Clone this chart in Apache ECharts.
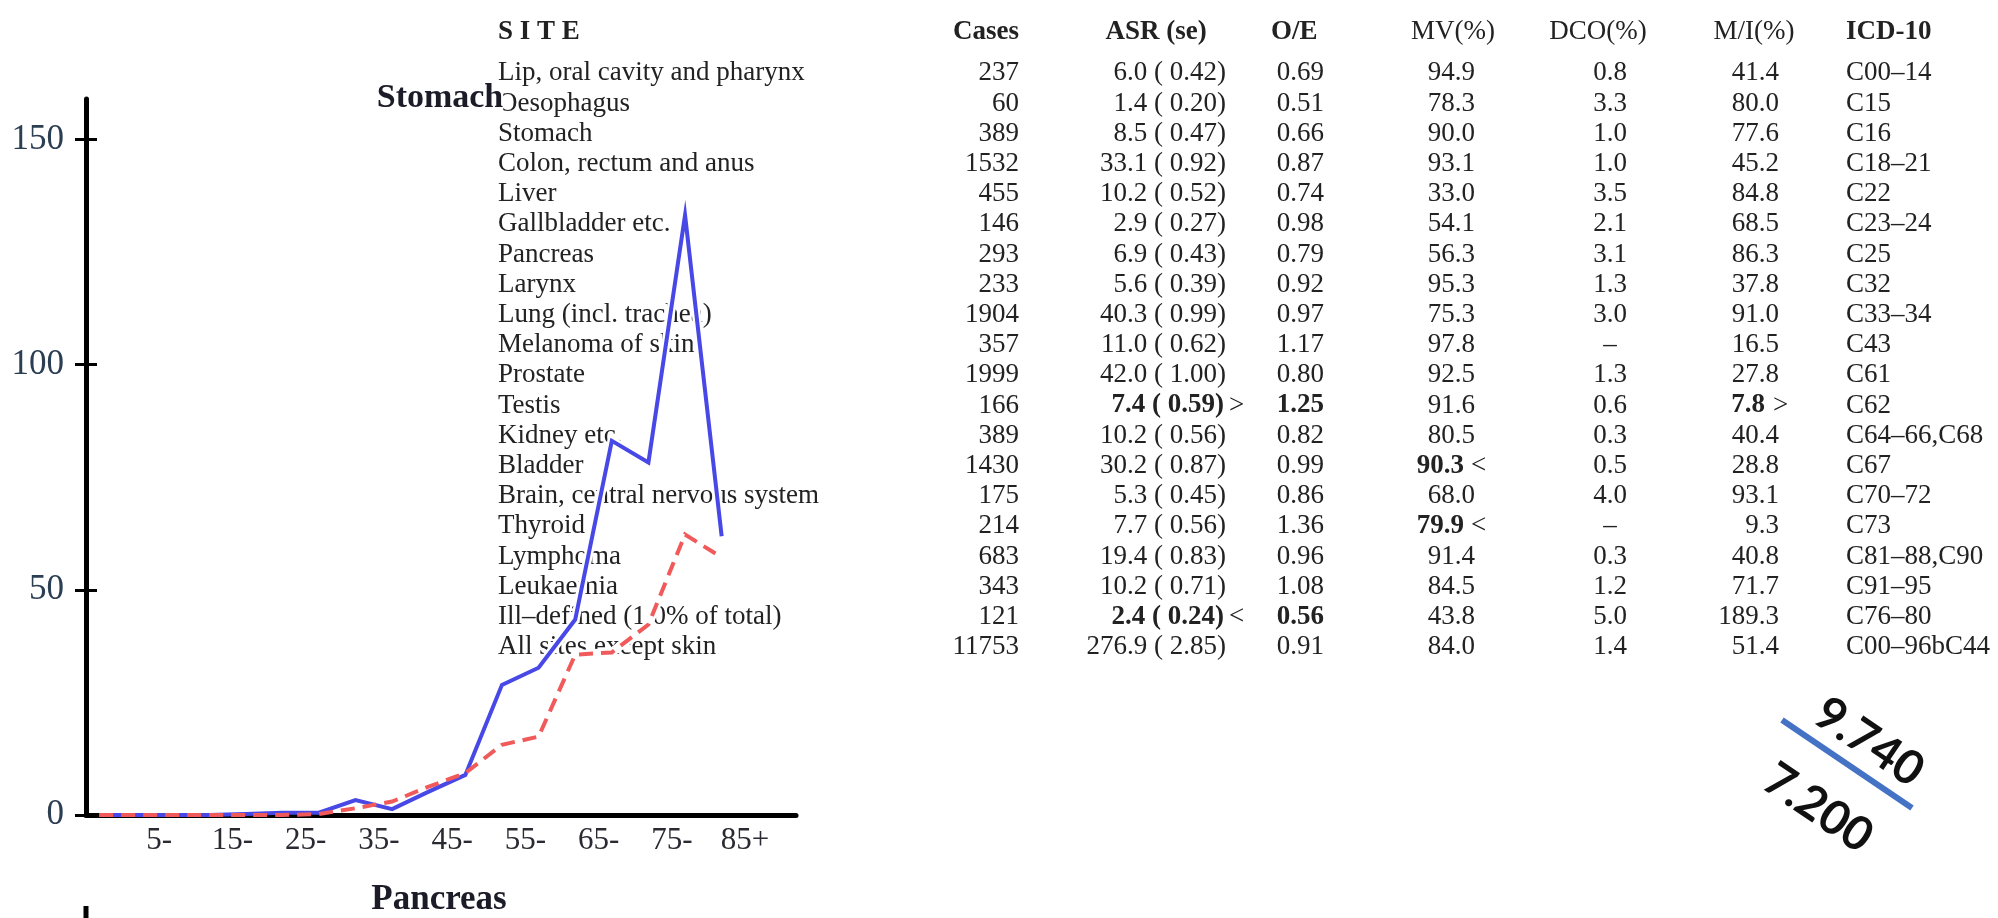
<!DOCTYPE html>
<html>
<head>
<meta charset="utf-8">
<script src="https://cdn.jsdelivr.net/npm/echarts@6/dist/echarts.min.js"></script>
<style>
html,body{margin:0;padding:0;background:#fff;}
#chart{width:1998px;height:918px;}
</style>
</head>
<body>
<div id="chart"></div>
<script>
// ---------- data ----------
const ageGroups = ['0-','5-','10-','15-','20-','25-','30-','35-','40-','45-','50-','55-','60-','65-','70-','75-','80-','85+'];
const ageTickLabels = ['5-','15-','25-','35-','45-','55-','65-','75-','85+'];
const stomachMale   = [0, 0, 0, 0, 0.2, 0.5, 0.5, 3.3, 1.3, 5.2, 8.9, 28.9, 32.7, 43.4, 83.1, 78.3, 133.2, 61.9];
const stomachFemale = [0, 0, 0, 0, 0, 0, 0.2, 1.5, 3.0, 6.3, 9.3, 15.6, 17.4, 35.6, 36.1, 42.3, 62.3, 57.2];
const yTicks = [0, 50, 100, 150];

const tableHeaders = ['S I T E','Cases','ASR (se)','O/E','MV(%)','DCO(%)','M/I(%)','ICD-10'];
const sites = ['Lip, oral cavity and pharynx','Oesophagus','Stomach','Colon, rectum and anus','Liver','Gallbladder etc.','Pancreas','Larynx','Lung (incl. trachea)','Melanoma of skin','Prostate','Testis','Kidney etc.','Bladder','Brain, central nervous system','Thyroid','Lymphoma','Leukaemia','Ill\u2013defined (1.0% of total)','All sites except skin'];
const cases = [237,60,389,1532,455,146,293,233,1904,357,1999,166,389,1430,175,214,683,343,121,11753];
const asr = ['6.0 ( 0.42)','1.4 ( 0.20)','8.5 ( 0.47)','33.1 ( 0.92)','10.2 ( 0.52)','2.9 ( 0.27)','6.9 ( 0.43)','5.6 ( 0.39)','40.3 ( 0.99)','11.0 ( 0.62)','42.0 ( 1.00)','7.4 ( 0.59)','10.2 ( 0.56)','30.2 ( 0.87)','5.3 ( 0.45)','7.7 ( 0.56)','19.4 ( 0.83)','10.2 ( 0.71)','2.4 ( 0.24)','276.9 ( 2.85)'];
const oe = ['0.69','0.51','0.66','0.87','0.74','0.98','0.79','0.92','0.97','1.17','0.80','1.25','0.82','0.99','0.86','1.36','0.96','1.08','0.56','0.91'];
const mv = ['94.9','78.3','90.0','93.1','33.0','54.1','56.3','95.3','75.3','97.8','92.5','91.6','80.5','90.3','68.0','79.9','91.4','84.5','43.8','84.0'];
const dco = ['0.8','3.3','1.0','1.0','3.5','2.1','3.1','1.3','3.0','\u2013','1.3','0.6','0.3','0.5','4.0','\u2013','0.3','1.2','5.0','1.4'];
const mi = ['41.4','80.0','77.6','45.2','84.8','68.5','86.3','37.8','91.0','16.5','27.8','7.8','40.4','28.8','93.1','9.3','40.8','71.7','189.3','51.4'];
const icd = ['C00\u201314','C15','C16','C18\u201321','C22','C23\u201324','C25','C32','C33\u201334','C43','C61','C62','C64\u201366,C68','C67','C70\u201372','C73','C81\u201388,C90','C91\u201395','C76\u201380','C00\u201396bC44'];
const asrFlags = {11: '>', 18: '<'};
const oeBold = [11, 18];
const mvFlags = {13: '<', 15: '<'};
const miFlags = {11: '>'};
const annotTop = '9.740';
const annotBottom = '7.200';

// ---------- drawing ----------
const SERIF = '"Liberation Serif", "Times New Roman", Times, serif';
const TXT = '#222';
const FS = 27;
const els = [];
function T(x, y, s, align, bold, extra) {
  els.push(Object.assign({
    type: 'text', x: x, y: y, z: 1, silent: true,
    style: { text: s, fontFamily: SERIF, fontSize: FS, fontWeight: bold ? 'bold' : 'normal',
             fill: TXT, align: align, verticalAlign: 'middle' }
  }, extra || {}));
}
// headers
const hy = 32;
T(498, hy, tableHeaders[0], 'left', true);
T(1019, hy, tableHeaders[1], 'right', true);
T(1156, hy, tableHeaders[2], 'center', true);
T(1271, hy, tableHeaders[3], 'left', true);
T(1453, hy, tableHeaders[4], 'center', false);
T(1598, hy, tableHeaders[5], 'center', false);
T(1754, hy, tableHeaders[6], 'center', false);
T(1846, hy, tableHeaders[7], 'left', true);
// rows
for (let i = 0; i < sites.length; i++) {
  const y = 73.3 + 30.2 * i;
  T(498, y, sites[i], 'left', false);
  T(1019, y, String(cases[i]), 'right', false);
  const af = asrFlags[i];
  T(af ? 1224 : 1226, y, asr[i], 'right', !!af);
  if (af) T(1229, y, af, 'left', false);
  T(1324, y, oe[i], 'right', oeBold.indexOf(i) >= 0);
  const mf = mvFlags[i];
  if (mf) { T(1464, y, mv[i], 'right', true); T(1471, y, mf, 'left', false); }
  else T(1475, y, mv[i], 'right', false);
  T(1610, y, dco[i], 'center', false);
  const mif = miFlags[i];
  if (mif) { T(1765, y, mi[i], 'right', true); T(1773, y, mif, 'left', false); }
  else T(1779, y, mi[i], 'right', false);
  T(1846, y, icd[i], 'left', false);
}
// panel titles
els.push({ type: 'text', x: 440, y: 98, z: 6, silent: true,
  style: { text: 'Stomach', fontFamily: SERIF, fontSize: 34, fontWeight: 'bold', fill: '#1c1c28',
           align: 'center', verticalAlign: 'middle', backgroundColor: '#fff', lineHeight: 24 } });
els.push({ type: 'text', x: 439, y: 900, z: 6, silent: true,
  style: { text: 'Pancreas', fontFamily: SERIF, fontSize: 35, fontWeight: 'bold', fill: '#1c1c28',
           align: 'center', verticalAlign: 'middle' } });
// fragment of next panel's axis
els.push({ type: 'line', z: 6, silent: true, shape: { x1: 86, y1: 906, x2: 86, y2: 918 },
  style: { stroke: '#000', lineWidth: 5 } });
// annotation
els.push({ type: 'line', z: 6, silent: true, shape: { x1: 1782, y1: 720, x2: 1912, y2: 808 },
  style: { stroke: '#4472C4', lineWidth: 6 } });
const rot = -34 * Math.PI / 180;
els.push({ type: 'text', x: 1869, y: 742, rotation: rot, z: 6, silent: true,
  style: { text: annotTop, fontFamily: 'Lato, "Open Sans", sans-serif', fontSize: 47, fontWeight: 'bold',
           fill: '#111', align: 'center', verticalAlign: 'middle' } });
els.push({ type: 'text', x: 1818, y: 808, rotation: rot, z: 6, silent: true,
  style: { text: annotBottom, fontFamily: 'Lato, "Open Sans", sans-serif', fontSize: 47, fontWeight: 'bold',
           fill: '#111', align: 'center', verticalAlign: 'middle' } });

const xMin = -0.36, xInterval = 2;
function xLabel(v) {
  const k = Math.round((v - xMin) / xInterval);
  if (Math.abs(v - (xMin + k * xInterval)) > 1e-6) return '';
  if (k < 1 || k > ageTickLabels.length) return '';
  return ageTickLabels[k - 1];
}

const maleData = stomachMale.map((v, i) => [i, v]);
const femaleData = stomachFemale.map((v, i) => [i, v]);

const chart = echarts.init(document.getElementById('chart'), null, { renderer: 'canvas' });
chart.setOption({
  animation: false,
  backgroundColor: '#fff',
  grid: { left: 86, right: 1202, top: 99, bottom: 103, outerBoundsMode: 'none', containLabel: false },
  xAxis: {
    type: 'value', min: xMin, max: 19.03, interval: xInterval, z: 3,
    axisLine: { show: true, onZero: false, lineStyle: { color: '#000', width: 5 } },
    axisTick: { show: false },
    splitLine: { show: false },
    axisLabel: { formatter: xLabel, fontFamily: SERIF, fontSize: 31, color: '#2a2a32', margin: 10,
                 showMinLabel: true, showMaxLabel: true, hideOverlap: false }
  },
  yAxis: [{
    type: 'value', min: 0, max: 159, z: 3,
    axisLine: { show: true, onZero: false, lineStyle: { color: '#000', width: 5 } },
    axisTick: { show: true, length: 11, customValues: yTicks, lineStyle: { color: '#000', width: 3 } },
    splitLine: { show: false },
    axisLabel: { customValues: yTicks, fontFamily: SERIF, fontSize: 35, color: '#2c3e52', margin: 22 }
  }, {
    type: 'value', min: 0, max: 159, z: 3, position: 'left',
    axisLine: { show: false, onZero: false },
    axisTick: { show: true, inside: true, length: 11, customValues: yTicks, lineStyle: { color: '#000', width: 3 } },
    splitLine: { show: false },
    axisLabel: { show: false }
  }],
  graphic: { elements: els },
  series: [
    { type: 'line', name: 'halo-m', data: maleData, z: 2, symbol: 'none', silent: true,
      lineStyle: { color: '#fff', width: 9, join: 'miter', miterLimit: 10 } },
    { type: 'line', name: 'halo-f', data: femaleData, z: 2, symbol: 'none', silent: true,
      lineStyle: { color: '#fff', width: 9, join: 'miter', miterLimit: 10 } },
    { type: 'line', name: 'Male', data: maleData, z: 4, symbol: 'none',
      lineStyle: { color: '#4848e6', width: 4, join: 'miter', miterLimit: 10 } },
    { type: 'line', name: 'Female', data: femaleData, z: 4, symbol: 'none',
      lineStyle: { color: '#f05a5a', width: 4, type: [14, 8], join: 'miter', miterLimit: 10 } }
  ]
});
</script>
</body>
</html>
